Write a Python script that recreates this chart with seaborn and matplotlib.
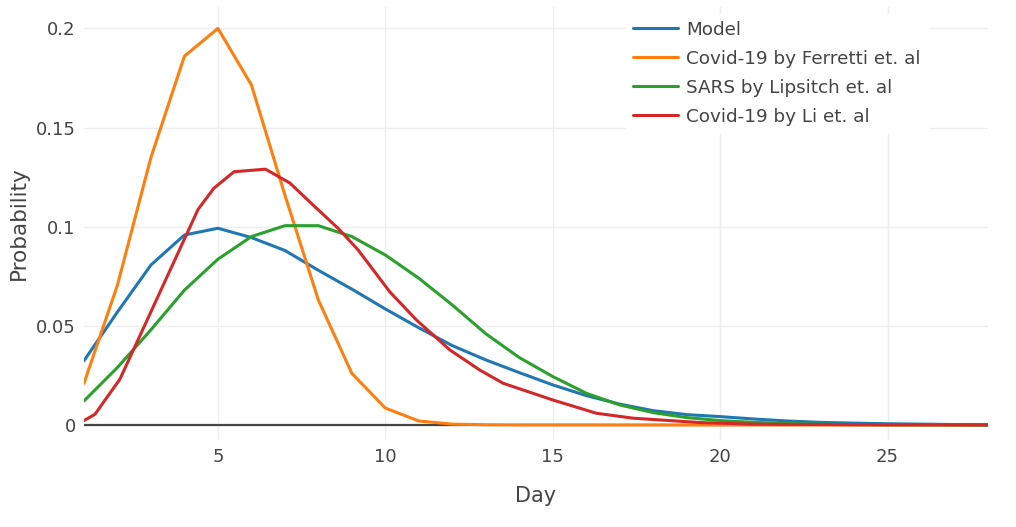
import pandas as pd
import seaborn as sns
import matplotlib.pyplot as plt

# values
days = list(range(1, 29))
model = [0.0324, 0.057, 0.0807, 0.0958, 0.0992, 0.0945, 0.088, 0.078, 0.0685, 0.0585,
         0.049, 0.040, 0.0328, 0.0264, 0.0202, 0.0148, 0.0105, 0.0072, 0.0052, 0.0042,
         0.003, 0.002, 0.0013, 0.0009, 0.0006, 0.0004, 0.0002, 0.0001]
ferretti = [0.021, 0.0706, 0.135, 0.186, 0.200, 0.1715, 0.116, 0.063, 0.026, 0.0085,
            0.002, 0.0004, 0.0001] + [0.0] * 15
sars = [0.0121, 0.029, 0.048, 0.068, 0.0836, 0.095, 0.1005, 0.1005, 0.095, 0.0857,
        0.074, 0.0605, 0.046, 0.034, 0.0244, 0.016, 0.0101, 0.0062, 0.0037, 0.0022,
        0.0013, 0.0007, 0.0004, 0.0002, 0.0001, 0.0001, 0.0, 0.0]
li_days = [1.0, 1.33, 1.63, 2.07, 3.27, 4.41, 4.88, 5.48, 6.42, 7.15, 7.9, 8.6, 9.19,
           10.13, 10.93, 11.93, 12.82, 13.52, 15.0, 16.3, 17.4, 19.4, 21.0, 24.0, 28.0]
li = [0.0022, 0.0054, 0.0126, 0.023, 0.067, 0.1088, 0.1194, 0.1277, 0.129, 0.122,
      0.110, 0.099, 0.0882, 0.0672, 0.0529, 0.0378, 0.0277, 0.021, 0.0126, 0.0059,
      0.0034, 0.0012, 0.0004, 0.0001, 0.0]

names = ['Model', 'Covid-19 by Ferretti et. al', 'SARS by Lipsitch et. al', 'Covid-19 by Li et. al']
colors = ['#1f77b4', '#ff7f0e', '#2ca02c', '#d62728']

frames = [
    pd.DataFrame({'Day': days, 'Probability': model, 'series': names[0]}),
    pd.DataFrame({'Day': days, 'Probability': ferretti, 'series': names[1]}),
    pd.DataFrame({'Day': days, 'Probability': sars, 'series': names[2]}),
    pd.DataFrame({'Day': li_days, 'Probability': li, 'series': names[3]}),
]
df = pd.concat(frames, ignore_index=True)

sns.set_theme(style='whitegrid', rc={'grid.color': '#eeeeee', 'grid.linewidth': 1.0,
                                     'axes.edgecolor': 'white'})
plt.rcParams['font.family'] = ['DejaVu Sans']

fig = plt.figure(figsize=(10.16, 5.27), dpi=100)
ax = fig.add_axes([84 / 1016, 87 / 527, 904 / 1016, 433 / 527])

ax.axhline(0, color='#444444', lw=1.6, zorder=1)
sns.lineplot(data=df, x='Day', y='Probability', hue='series', palette=colors,
             hue_order=names, linewidth=2.2, ax=ax, zorder=3, sort=False)

ax.set_xlim(1, 28)
ax.set_ylim(-0.0076, 0.2108)
ax.set_xticks([5, 10, 15, 20, 25])
ax.set_yticks([0, 0.05, 0.1, 0.15, 0.2])
ax.set_yticklabels(['0', '0.05', '0.1', '0.15', '0.2'])
ax.tick_params(axis='both', labelsize=13, colors='#444444', length=0, pad=6)
ax.set_xlabel('Day', fontsize=15, color='#444444', labelpad=14)
ax.set_ylabel('Probability', fontsize=15.5, color='#444444', labelpad=5)
for s in ax.spines.values():
    s.set_visible(False)

leg = ax.legend(loc='upper left', bbox_to_anchor=(626 / 1016, 1 - 13.5 / 527),
                bbox_transform=fig.transFigure, fontsize=13.2, frameon=True,
                facecolor='white', edgecolor='white', framealpha=1, fancybox=False,
                handlelength=2.45, handletextpad=0.44, labelspacing=0.6,
                borderpad=0.4, borderaxespad=0)
for t in leg.get_texts():
    t.set_color('#444444')
leg.set_zorder(5)

fig.savefig('out.png', dpi=100)
